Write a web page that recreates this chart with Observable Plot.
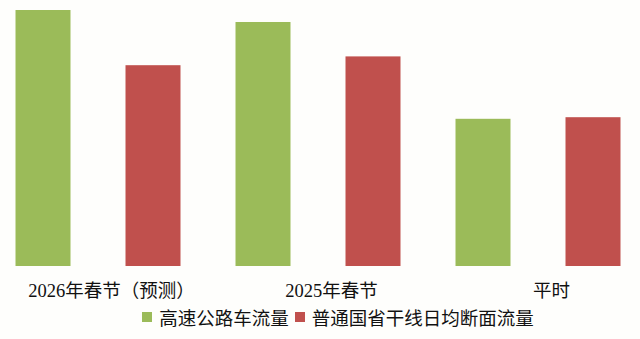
<!DOCTYPE html>
<html>
<head>
<meta charset="utf-8">
<script src="https://cdn.jsdelivr.net/npm/d3@7"></script>
<script src="https://cdn.jsdelivr.net/npm/@observablehq/plot@0.6"></script>
<style>
  html, body { margin: 0; padding: 0; background: #fefefc; }
  #chart { width: 640px; height: 339px; overflow: hidden; position: relative; }
  .legend { position: absolute; left: 0; top: 304px; width: 640px; box-sizing: border-box; padding-left: 36px; display: flex; justify-content: center; align-items: center;
    font-family: "Liberation Serif", "Noto Sans CJK SC", serif; font-size: 18.5px; color: #111; }
  .legend .sw { display: inline-block; width: 10px; height: 10px; margin-right: 7px; }
  .legend .item { display: flex; align-items: center; margin: 0 3px; }
</style>
</head>
<body>
<div id="chart"></div>
<script>
const categories = ["2026年春节（预测）", "2025年春节", "平时"];
const seriesNames = ["高速公路车流量", "普通国省干线日均断面流量"];
const highwayValues = [3.20, 3.05, 1.84];
const trunkValues = [2.51, 2.62, 1.86];
const colors = ["#9bbb59", "#c0504d"];

const data = [];
categories.forEach((c, i) => {
  data.push({category: c, series: seriesNames[0], value: highwayValues[i]});
  data.push({category: c, series: seriesNames[1], value: trunkValues[i]});
});

const plot = Plot.plot({
  width: 640,
  height: 305,
  marginTop: 0,
  marginBottom: 39,
  marginLeft: -12.5,
  marginRight: -7.5,
  style: {background: "transparent", fontFamily: "'Liberation Serif', 'Noto Sans CJK SC', serif"},
  fx: {domain: categories, padding: 0, axis: null},
  x: {domain: seriesNames, paddingInner: 0.5, paddingOuter: 0.25, axis: null},
  y: {domain: [0, 3.325], axis: null},
  color: {domain: seriesNames, range: colors},
  marks: [
    Plot.barY(data, {fx: "category", x: "series", y: "value", fill: "series"}),
    Plot.axisFx({anchor: "bottom", tickSize: 0, tickPadding: 17, dx: 13, label: null, fontSize: 18.5, fill: "#111"})
  ]
});

const chart = document.getElementById("chart");
chart.appendChild(plot);

const legend = document.createElement("div");
legend.className = "legend";
seriesNames.forEach((s, i) => {
  const item = document.createElement("span");
  item.className = "item";
  const sw = document.createElement("span");
  sw.className = "sw";
  sw.style.background = colors[i];
  item.appendChild(sw);
  item.appendChild(document.createTextNode(s));
  legend.appendChild(item);
});
chart.appendChild(legend);
</script>
</body>
</html>
